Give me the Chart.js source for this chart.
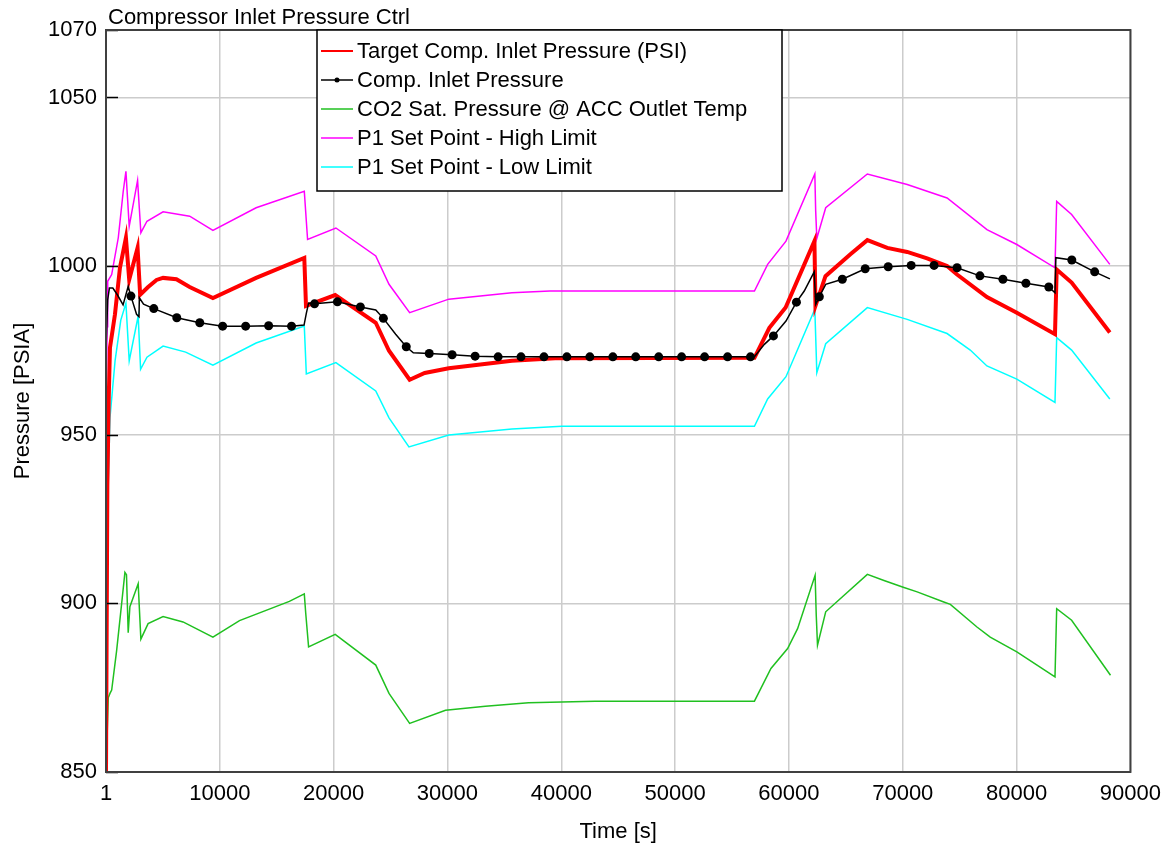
<!DOCTYPE html>
<html>
<head>
<meta charset="utf-8">
<script src="https://cdn.jsdelivr.net/npm/chart.js@4/dist/chart.umd.min.js"></script>
<style>
  html, body { margin: 0; padding: 0; background: #fff; }
  #wrap { width: 1170px; height: 849px; }
</style>
</head>
<body>
<div id="wrap"><canvas id="chart" width="1170" height="849"></canvas></div>
<script>
// axis ticks
const xTicks = [1, 10000, 20000, 30000, 40000, 50000, 60000, 70000, 80000, 90000];
const yTicks = [850, 900, 950, 1000, 1050, 1070];

// Target Comp. Inlet Pressure (PSI)
const targetTime = [1, 120, 250, 350, 790, 1226, 1751, 2040, 2775, 3000, 3700, 4440, 5017, 6190, 7350, 9394, 13190, 17422, 17571, 20137, 23700, 24864, 26677, 28000, 30117, 35660, 39460, 56969, 58280, 59710, 62240, 62330, 63210, 65400, 66888, 68640, 70390, 72140, 73893, 74769, 77395, 80021, 83374, 83523, 84836, 88190];
const targetValue = [850, 935, 962, 975.8, 985.7, 999.5, 1008.4, 996, 1005.4, 991.5, 993.8, 995.9, 996.5, 996.1, 993.8, 990.5, 996.5, 1002.4, 988.2, 991.4, 983.2, 974.9, 966.3, 968.3, 969.7, 971.9, 972.7, 972.8, 981.7, 987.7, 1007.4, 988.2, 997, 1003.5, 1007.7, 1005.4, 1004.2, 1002.3, 1000, 997.5, 990.8, 986.2, 979.8, 999, 995.1, 980.3];

// Comp. Inlet Pressure
const compTime = [1, 150, 300, 600, 1000, 1500, 1950, 2190, 2685, 2900, 2930, 3300, 4200, 6220, 8240, 10250, 12270, 14290, 16300, 17400, 17600, 17800, 18320, 20330, 22350, 23700, 24370, 25450, 26380, 27000, 28400, 30410, 32430, 34450, 36460, 38480, 40490, 42510, 44530, 46540, 48560, 50570, 52590, 54610, 56620, 56969, 57840, 58640, 59740, 60660, 61345, 62220, 62360, 62670, 63230, 64690, 66700, 68720, 70740, 72750, 74770, 76780, 78800, 80820, 82830, 83374, 83450, 84850, 86860, 88200];
const compValue = [975, 990, 993.5, 993.5, 991.5, 988.5, 994, 991.1, 985.7, 985, 990.6, 988.7, 987.4, 984.7, 983.2, 982.2, 982.2, 982.3, 982.2, 982.5, 986, 989, 988.8, 989.4, 987.9, 987, 984.5, 979.8, 976.1, 974.3, 974.1, 973.7, 973.3, 973.1, 973.1, 973.1, 973.1, 973.1, 973.1, 973.1, 973.1, 973.1, 973.1, 973.1, 973.1, 973.1, 976.8, 979.3, 983.7, 989.3, 992.6, 998.3, 988.7, 990.9, 994.6, 996.1, 999.2, 999.8, 1000.2, 1000.2, 999.5, 997.1, 996.1, 994.9, 993.8, 992.1, 1002.5, 1001.8, 998.3, 996.2];
// times where the black series shows a dot
const compMarkerTime = [2190, 4200, 6220, 8240, 10250, 12270, 14290, 16300, 18320, 20330, 22350, 24370, 26380, 28400, 30410, 32430, 34450, 36460, 38480, 40490, 42510, 44530, 46540, 48560, 50570, 52590, 54610, 56620, 58640, 60660, 62670, 64690, 66700, 68720, 70740, 72750, 74770, 76780, 78800, 80820, 82830, 84850, 86860];

// CO2 Sat. Pressure @ ACC Outlet Temp
const satTime = [1, 200, 350, 500, 935, 1375, 1663, 1800, 1952, 2100, 2828, 3064, 3700, 5017, 6768, 9394, 11730, 16109, 17422, 17550, 17799, 20137, 23700, 24864, 26677, 29828, 33331, 37121, 42960, 56969, 58420, 59884, 60760, 62300, 62400, 62510, 63230, 66888, 68350, 70040, 71266, 73603, 74180, 76519, 77683, 80021, 83374, 83523, 84836, 88251];
const satValue = [850, 872, 873.3, 874.3, 886, 899.9, 909.2, 908.5, 891.3, 899, 905.8, 889.4, 894, 896.1, 894.5, 890, 894.9, 900.6, 902.8, 897, 887.1, 890.8, 881.7, 873.3, 864.4, 868.3, 869.5, 870.5, 871, 871, 880.7, 886.6, 892.5, 908.3, 896.4, 887.6, 897.5, 908.6, 906.8, 904.8, 903.4, 900.4, 899.7, 893, 890, 885.6, 878.2, 898.4, 895, 878.7];

// P1 Set Point - High Limit
const highTime = [1, 100, 150, 500, 1080, 1515, 1751, 2040, 2775, 3064, 3600, 5017, 7354, 9394, 13190, 17422, 17711, 20198, 23700, 24864, 26677, 30117, 35660, 39000, 56969, 58130, 59740, 62275, 62350, 62450, 63230, 66888, 70390, 73893, 77395, 80021, 83374, 83523, 84836, 88190];
const highValue = [955, 982, 995.5, 997.5, 1008.4, 1022.2, 1028.1, 1011.8, 1025.4, 1009.9, 1013.3, 1016.1, 1014.8, 1010.6, 1017.3, 1022.2, 1007.9, 1011.3, 1003, 994.6, 986.2, 990.2, 992.1, 992.6, 992.6, 1000.5, 1007.4, 1027.3, 1016.3, 1008.2, 1017.3, 1027.3, 1024.2, 1020.2, 1010.8, 1006.4, 999.5, 1019.2, 1015.3, 1000.5];

// P1 Set Point - Low Limit
const lowTime = [1, 200, 350, 800, 1300, 1751, 2040, 2828, 3040, 3600, 5017, 7000, 9394, 13190, 17422, 17600, 20198, 23700, 24864, 26615, 30117, 35660, 40040, 56969, 58130, 59740, 62275, 62450, 63230, 66888, 70390, 73893, 75930, 77395, 80021, 83374, 83523, 84836, 88190];
const lowValue = [850, 936, 955, 972, 984, 989, 971.9, 985.2, 969.4, 973, 976.3, 974.5, 970.6, 977.2, 982.2, 968, 971.4, 963, 955, 946.4, 949.9, 951.7, 952.5, 952.5, 960.6, 967.2, 987.2, 968.4, 977, 987.7, 984.2, 980, 975.1, 970.4, 966.5, 959.6, 978.8, 975.1, 960.6];

const FONT = "'Liberation Sans', Arial, sans-serif";
const FSIZE = 22;

function pts(t, v) {
  return t.map((x, i) => ({ x: x, y: v[i] }));
}

const series = [
  { label: 'Target Comp. Inlet Pressure (PSI)', color: '#ff0000', width: 4, legendWidth: 2, data: pts(targetTime, targetValue), order: 1 },
  { label: 'Comp. Inlet Pressure', color: '#000000', width: 1.5, legendWidth: 1.5, data: pts(compTime, compValue), order: 0, markers: compMarkerTime },
  { label: 'CO2 Sat. Pressure @ ACC Outlet Temp', color: '#20c020', width: 1.5, legendWidth: 1.5, data: pts(satTime, satValue), order: 4 },
  { label: 'P1 Set Point - High Limit', color: '#ff00ff', width: 1.5, legendWidth: 1.5, data: pts(highTime, highValue), order: 3 },
  { label: 'P1 Set Point - Low Limit', color: '#00ffff', width: 1.5, legendWidth: 1.5, data: pts(lowTime, lowValue), order: 2 }
];

// frame, inward y ticks, title and legend box
const decorations = {
  id: 'decorations',
  afterDatasetsDraw(chart) {
    const ctx = chart.ctx;
    const a = chart.chartArea;
    const y = chart.scales.y;
    ctx.save();

    ctx.strokeStyle = '#000';
    ctx.lineWidth = 1.5;
    yTicks.forEach(v => {
      const py = Math.round(y.getPixelForValue(v)) + 0.5;
      ctx.beginPath();
      ctx.moveTo(a.left, py);
      ctx.lineTo(a.left + 12, py);
      ctx.stroke();
    });

    ctx.strokeStyle = '#404040';
    ctx.lineWidth = 2;
    ctx.strokeRect(a.left, a.top, a.right - a.left, a.bottom - a.top);

    ctx.fillStyle = '#000';
    ctx.font = FSIZE + 'px ' + FONT;
    ctx.textAlign = 'left';
    ctx.textBaseline = 'alphabetic';
    ctx.fillText('Compressor Inlet Pressure Ctrl', 108, 24);

    // legend
    const lx = 317, ly = 30, lw = 465, lh = 161;
    ctx.fillStyle = '#fff';
    ctx.fillRect(lx, ly, lw, lh);
    ctx.strokeStyle = '#000';
    ctx.lineWidth = 1.5;
    ctx.strokeRect(lx, ly, lw, lh);
    ctx.textBaseline = 'middle';
    series.forEach((s, i) => {
      const cy = 51 + i * 29;
      ctx.strokeStyle = s.color;
      ctx.lineWidth = s.legendWidth;
      ctx.beginPath();
      ctx.moveTo(321, cy);
      ctx.lineTo(353, cy);
      ctx.stroke();
      if (s.markers) {
        ctx.fillStyle = s.color;
        ctx.beginPath();
        ctx.arc(337, cy, 2.5, 0, Math.PI * 2);
        ctx.fill();
      }
      ctx.fillStyle = '#000';
      ctx.fillText(s.label, 357, cy + 1);
    });
    ctx.restore();
  }
};

new Chart(document.getElementById('chart'), {
  type: 'line',
  data: {
    datasets: series.map(s => ({
      label: s.label,
      data: s.data,
      borderColor: s.color,
      backgroundColor: s.color,
      borderWidth: s.width,
      order: s.order,
      tension: 0,
      fill: false,
      pointRadius: s.markers ? (c => (c.raw && s.markers.includes(c.raw.x)) ? 4.5 : 0) : 0,
      pointBorderWidth: 0,
      pointBackgroundColor: s.color
    }))
  },
  options: {
    responsive: false,
    animation: false,
    events: [],
    layout: { padding: { left: 0, right: 36, top: 30, bottom: 0 } },
    font: { family: FONT, size: FSIZE },
    plugins: {
      legend: { display: false },
      tooltip: { enabled: false }
    },
    scales: {
      x: {
        type: 'linear',
        min: 1,
        max: 90000,
        afterFit: s => { s.height = 77; },
        afterBuildTicks: s => { s.ticks = xTicks.map(v => ({ value: v })); },
        grid: { color: '#cccccc', lineWidth: 1.5, drawTicks: false },
        border: { display: false },
        ticks: {
          padding: 9,
          maxRotation: 0,
          autoSkip: false,
          color: '#000',
          font: { family: FONT, size: FSIZE },
          callback: v => String(v)
        },
        title: {
          display: true,
          text: 'Time [s]',
          color: '#000',
          font: { family: FONT, size: FSIZE },
          padding: { top: 0, bottom: 4 }
        }
      },
      y: {
        min: 850,
        max: 1070,
        afterFit: s => { s.width = 106; },
        afterBuildTicks: s => { s.ticks = yTicks.map(v => ({ value: v })); },
        grid: { color: '#cccccc', lineWidth: 1.5, drawTicks: false },
        border: { display: false },
        ticks: {
          padding: 9,
          autoSkip: false,
          color: '#000',
          font: { family: FONT, size: FSIZE },
          callback: v => String(v)
        },
        title: {
          display: true,
          text: 'Pressure [PSIA]',
          color: '#000',
          font: { family: FONT, size: FSIZE },
          padding: { top: 10, bottom: 0 }
        }
      }
    }
  },
  plugins: [decorations]
});
</script>
</body>
</html>
